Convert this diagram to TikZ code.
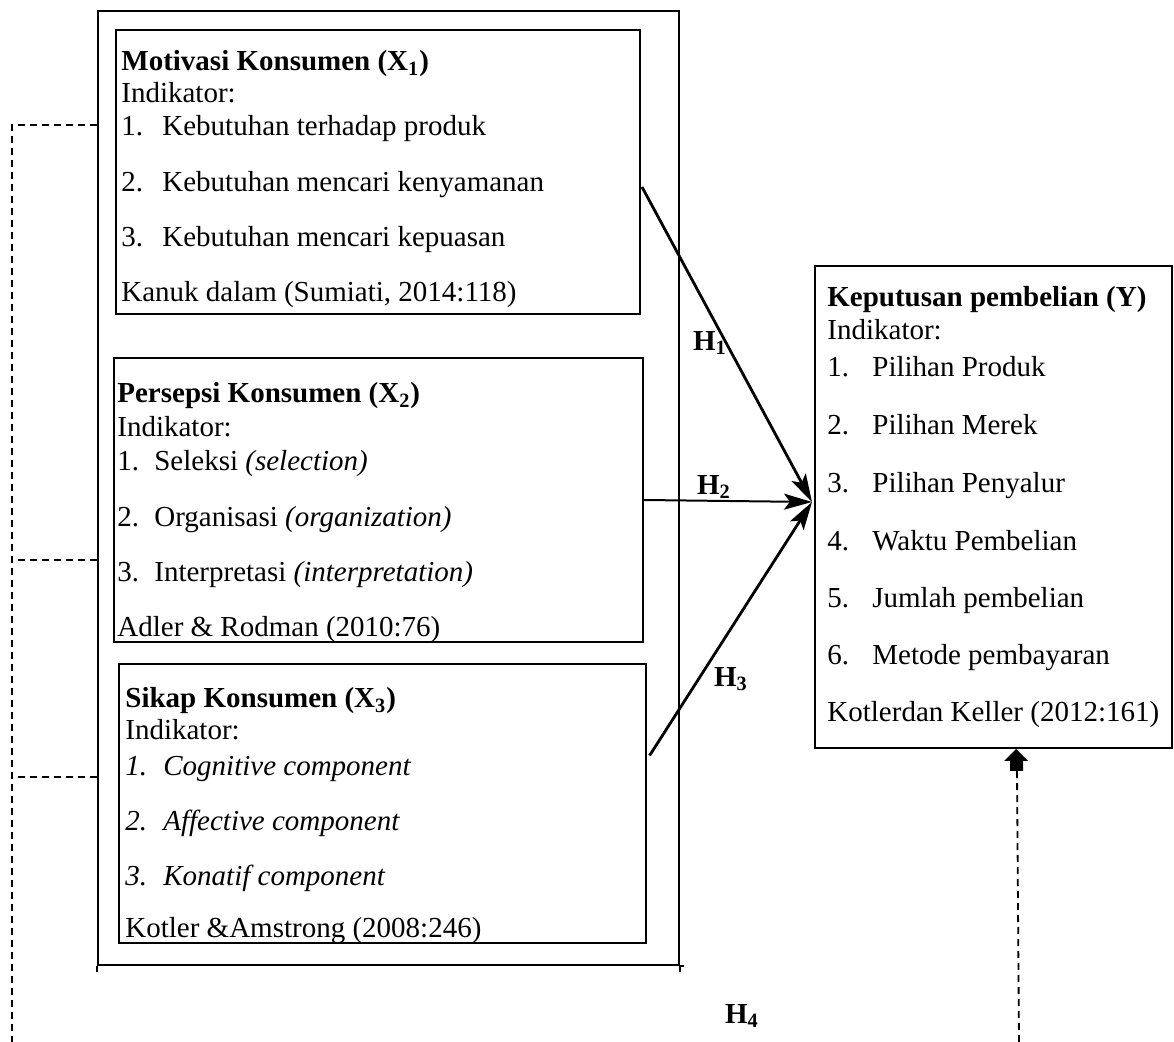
\documentclass[tikz,border=0pt]{standalone}
\usepackage{fontspec}
\setmainfont{Liberation Serif}
\usepackage{tikz}
\usetikzlibrary{arrows.meta}
\usetikzlibrary{calc}
\usetikzlibrary{fit}
\tikzset{basic box/.style={draw,inner sep=0pt,line width=1pt}}
\tikzset{hyp/.style={draw,
                     line width=1.4pt,
                     -{Stealth[length=14pt,width=8pt,inset=3pt]}}}
\tikzset{link/.style={draw,line width=0.9pt,dash pattern=on 3.5pt off 2.5pt}}
\tikzset{line/.style={anchor=west,inner sep=0pt,yshift=-2pt,text height=1.5ex,text depth=.25ex}}
\newcommand{\itm}[3][19pt]{\makebox[#1][l]{#2}#3}

\begin{document}
\begin{tikzpicture}
      [
      x=0.5pt,y=-0.5pt,
      font=\fontsize{14.5}{17}\selectfont,
      hlabel/.style={font=\fontsize{14.5}{17}\selectfont\bfseries,inner sep=0pt},
      ]
      \useasboundingbox (0,0) rectangle (1174,1042);

      % boxes
      \node [basic box,fit={(98,11) (679,965)}] (frame) {};
      \node [basic box,fit={(116,30) (640,314)}] (X1) {};
      \node [basic box,fit={(114,358) (643,642)}] (X2) {};
      \node [basic box,line width=0.6pt,fit={(119,664) (646,943)}] (X3) {};
      \node [basic box,fit={(815,266) (1172,748)}] (Y) {};
      \draw [line width=1pt] (frame.south west) -- ++(0,6);
      \draw [line width=1pt] ($(frame.south east)+(0,6)$) -- (frame.south east) -- ++(4,0);

      % box texts
      \foreach \y/\t [count=\i] in
      {
      61/\textbf{Motivasi Konsumen (X\textsubscript{1})},
      93/Indikator:,
      126/\itm[20.5pt]{1.}{Kebutuhan terhadap produk},
      182/\itm[20.5pt]{2.}{Kebutuhan mencari kenyamanan},
      237/\itm[20.5pt]{3.}{Kebutuhan mencari kepuasan},
      292/{Kanuk dalam (Sumiati, 2014:118)}
      }
      {
      \node [line] (X1t\i) at (121,\y) {\t};
      }

      \foreach \y/\t [count=\i] in
      {
      393/\textbf{Persepsi Konsumen (X\textsubscript{2})},
      427/Indikator:,
      461/\itm[18.5pt]{1.}{Seleksi \textit{(selection)}},
      517/\itm[18.5pt]{2.}{Organisasi \textit{(organization)}},
      572/\itm[18.5pt]{3.}{Interpretasi \textit{(interpretation)}},
      627/Adler \& Rodman (2010:76)
      }
      {
      \node [line] (X2t\i) at (117,\y) {\t};
      }

      \foreach \y/\t [count=\i] in
      {
      698/\textbf{Sikap Konsumen (X\textsubscript{3})},
      730/Indikator:,
      766/\itm{\textit{1.}}{\textit{Cognitive component}},
      821/\itm{\textit{2.}}{\textit{Affective component}},
      876/\itm{\textit{3.}}{\textit{Konatif component}},
      928/Kotler \&Amstrong (2008:246)
      }
      {
      \node [line] (X3t\i) at (125,\y) {\t};
      }

      \foreach \y/\t [count=\i] in
      {
      297/\textbf{Keputusan pembelian (Y)},
      330/Indikator:,
      367/\itm[22.5pt]{1.}{Pilihan Produk},
      425/\itm[22.5pt]{2.}{Pilihan Merek},
      483/\itm[22.5pt]{3.}{Pilihan Penyalur},
      541/\itm[22.5pt]{4.}{Waktu Pembelian},
      598/\itm[22.5pt]{5.}{Jumlah pembelian},
      655/\itm[22.5pt]{6.}{Metode pembayaran},
      712/Kotlerdan Keller (2012:161)
      }
      {
      \node [line] (Yt\i) at (827,\y) {\t};
      }

      % hypotheses
      \coordinate (tip) at ($(Y.west)+(-2,-5)$);
      \path [hyp] ($(X1.east)+(1,15)$) -- (tip);
      \path [hyp,line width=1pt] (X2.east) -- (tip);
      \path [hyp] ($(X3.east)+(3,-48)$) -- (tip);

      \node [hlabel] (H1) at (710,343) {H\textsubscript{1}};
      \node [hlabel] (H2) at (714,487) {H\textsubscript{2}};
      \node [hlabel] (H3) at (731,679) {H\textsubscript{3}};
      \node [hlabel] (H4) at (742,1016) {H\textsubscript{4}};

      % dashed links
      \coordinate (c1) at (12,125);
      \coordinate (c2) at (12,560);
      \coordinate (c3) at (12,777);
      \coordinate (cend) at (12,1042);
      \path [link] (frame.west |- c1) -- (c1) -- (cend);
      \path [link] (frame.west |- c2) -- (c2);
      \path [link] (frame.west |- c3) -- (c3);

      \coordinate (ybot) at (1019,1042);
      \coordinate (ytip) at ($(Y.south)+(22.5,0)$);
      \path [link] (ybot) -- ($(ytip)+(1,22)$);
      \fill (ytip) -- ++(12,12) -- ++(-5,0) -- ++(0,10) -- ++(-13,0)
      -- ++(0,-10) -- ++(-6,0) -- cycle;

    \end{tikzpicture}
\end{document}
